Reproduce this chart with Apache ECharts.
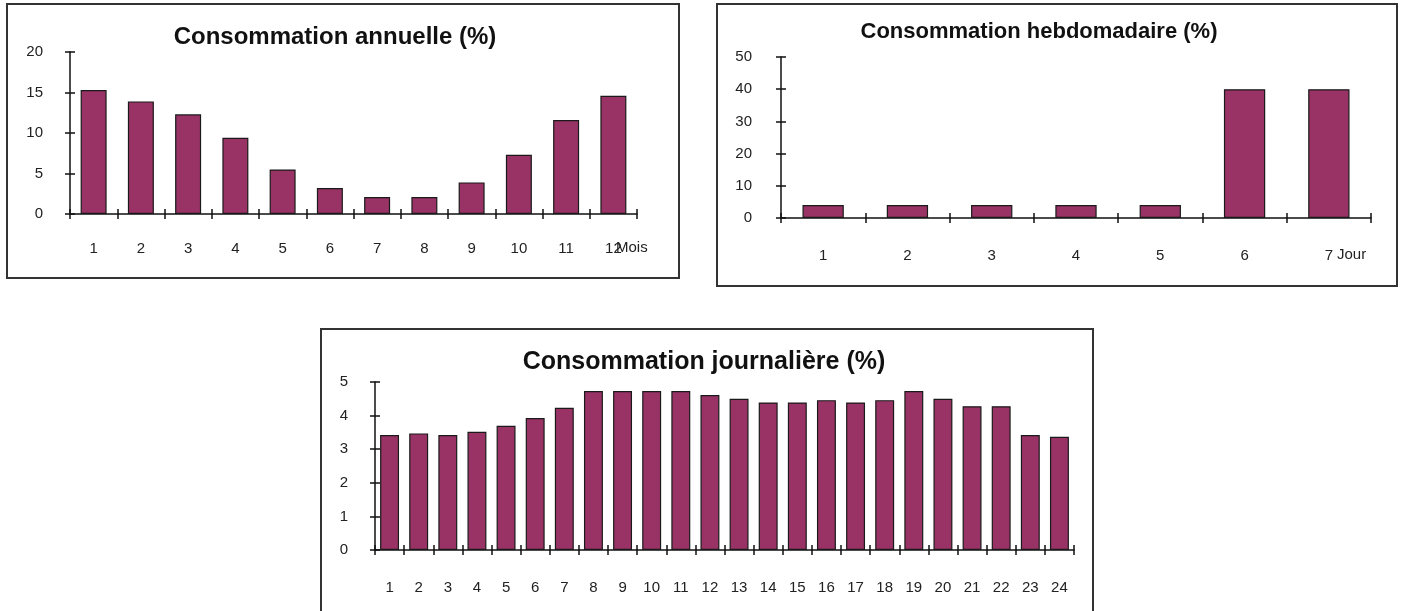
<!DOCTYPE html>
<html>
<head>
<meta charset="utf-8">
<script src="https://cdn.jsdelivr.net/npm/echarts@6/dist/echarts.min.js"></script>
<style>
  html, body { margin: 0; padding: 0; background: #fff; }
  #chart { width: 1404px; height: 611px; }
</style>
</head>
<body>
<div id="chart"></div>
<script>
// données
const mois = ['1', '2', '3', '4', '5', '6', '7', '8', '9', '10', '11', '12'];
const annuelle = [15.3, 13.9, 12.3, 9.4, 5.5, 3.2, 2.1, 2.1, 3.9, 7.3, 11.6, 14.6];

const jours = ['1', '2', '3', '4', '5', '6', '7'];
const hebdomadaire = [4, 4, 4, 4, 4, 40, 40];

const heures = ['1', '2', '3', '4', '5', '6', '7', '8', '9', '10', '11', '12',
  '13', '14', '15', '16', '17', '18', '19', '20', '21', '22', '23', '24'];
const journaliere = [3.42, 3.47, 3.42, 3.52, 3.70, 3.93, 4.23, 4.73, 4.73, 4.73, 4.73, 4.61,
  4.50, 4.39, 4.39, 4.46, 4.39, 4.46, 4.73, 4.50, 4.28, 4.28, 3.42, 3.37];

const titres = ['Consommation annuelle (%)', 'Consommation hebdomadaire (%)', 'Consommation journalière (%)'];

const AXE = '#111';
const TEXTE = '#222';
const FONT = "'Liberation Sans', Arial, sans-serif";

// grilles : [left, top, width, height]
const grilles = [
  [70, 52, 567, 162],
  [781, 57, 590, 161],
  [375, 382, 699, 168]
];

// axe x : un axe avec ticks vers l'extérieur + un axe "fantôme" (en haut, décalé sur l'axe du bas)
// dont les ticks remontent, pour que les graduations traversent l'axe comme dans Excel
function axesX(g, data, name, nameGap, margin) {
  return [{
    type: 'category', gridIndex: g, data: data, position: 'bottom',
    boundaryGap: true,
    axisLine: { show: true, lineStyle: { color: AXE, width: 1.5 } },
    axisTick: { show: true, length: 5, lineStyle: { color: AXE, width: 1.5 } },
    axisLabel: { interval: 0, margin: margin, fontSize: 15, color: TEXTE, fontFamily: FONT },
    name: name, nameLocation: 'end', nameGap: nameGap, nameMoveOverlap: false,
    nameTextStyle: { fontSize: 15, color: TEXTE, fontFamily: FONT, verticalAlign: 'top', align: 'left', padding: [margin - 1, 0, 0, 0] }
  }, {
    type: 'category', gridIndex: g, data: data, position: 'top',
    offset: -grilles[g][3],
    boundaryGap: true,
    axisLine: { show: false, onZero: false },
    axisTick: { show: true, inside: false, length: 5, lineStyle: { color: AXE, width: 1.5 } },
    axisLabel: { show: false }
  }];
}

function axesY(g, max, interval, margin) {
  return [{
    type: 'value', gridIndex: g, position: 'left', min: 0, max: max, interval: interval,
    splitLine: { show: false },
    axisLine: { show: true, lineStyle: { color: AXE, width: 1.5 } },
    axisTick: { show: true, length: 5, lineStyle: { color: AXE, width: 1.5 } },
    axisLabel: { margin: margin, fontSize: 15, color: TEXTE, fontFamily: FONT }
  }, {
    type: 'value', gridIndex: g, position: 'right', min: 0, max: max, interval: interval,
    offset: -grilles[g][2],
    splitLine: { show: false },
    axisLine: { show: false, onZero: false },
    axisTick: { show: true, inside: false, length: 5, lineStyle: { color: AXE, width: 1.5 } },
    axisLabel: { show: false }
  }];
}

function barres(idx, data, largeur) {
  return {
    type: 'bar', xAxisIndex: idx, yAxisIndex: idx, data: data,
    barWidth: largeur,
    itemStyle: { color: '#993366', borderColor: '#1a1a1a', borderWidth: 1.2 },
    silent: true
  };
}

function titre(texte, x, y, taille) {
  return {
    text: texte, left: x, top: y, textAlign: 'center', padding: 0,
    textStyle: { fontSize: taille, fontWeight: 'bold', color: '#111', fontFamily: FONT }
  };
}

function cadre(x, y, w, h) {
  return {
    type: 'rect', shape: { x: x, y: y, width: w, height: h }, silent: true,
    style: { fill: 'none', stroke: '#333', lineWidth: 2 }
  };
}

const chart = echarts.init(document.getElementById('chart'), null, { renderer: 'canvas' });

chart.setOption({
  backgroundColor: '#fff',
  animation: false,
  title: [
    titre(titres[0], 335, 25, 24),
    titre(titres[1], 1039, 21, 22),
    titre(titres[2], 704, 350, 25)
  ],
  graphic: [
    cadre(7, 4, 672, 274),
    cadre(717, 4, 680, 282),
    cadre(321, 329, 772, 300)
  ],
  grid: grilles.map(function (r) {
    return { left: r[0], top: r[1], width: r[2], height: r[3] };
  }),
  xAxis: [].concat(
    axesX(0, mois, 'Mois', -21, 27),
    axesX(1, jours, 'Jour', -34, 30),
    axesX(2, heures, '', 0, 30)
  ),
  yAxis: [].concat(
    axesY(0, 20, 5, 27),
    axesY(1, 50, 10, 29),
    axesY(2, 5, 1, 27)
  ),
  series: [
    barres(0, annuelle, '55%'),
    barres(2, hebdomadaire, '49%'),
    barres(4, journaliere, '65%')
  ]
});
</script>
</body>
</html>
